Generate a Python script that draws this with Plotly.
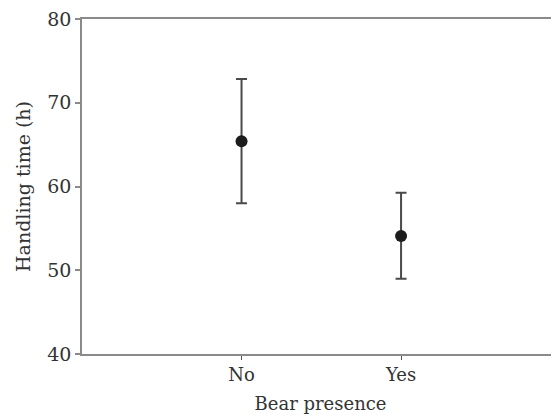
import plotly.graph_objects as go

categories = ["No", "Yes"]
means = [65.4, 54.1]
upper = [72.85, 59.25]
lower = [58.0, 49.0]
y_ticks = [40, 50, 60, 70, 80]

x_pos = list(range(len(categories)))
err_plus = [u - m for u, m in zip(upper, means)]
err_minus = [m - l for m, l in zip(means, lower)]

font_family = "DejaVu Serif, Liberation Serif, serif"

fig = go.Figure()
fig.add_trace(go.Scatter(
    x=x_pos, y=means, mode="markers",
    marker=dict(color="#1c1c1c", size=12),
    error_y=dict(type="data", symmetric=False, array=err_plus, arrayminus=err_minus,
                 color="#4a4a4a", thickness=2, width=5.5),
    showlegend=False,
))

fig.update_layout(
    width=551, height=409,
    margin=dict(l=74, r=0, t=11, b=63),
    paper_bgcolor="white", plot_bgcolor="white",
    font=dict(family=font_family, size=18, color="#333333"),
    xaxis=dict(
        range=[-1, 1.99], tickvals=x_pos, ticktext=categories,
        showgrid=False, zeroline=False, showline=True, linecolor="#8a8a8a", linewidth=1.5,
        mirror=True, ticks="outside", ticklen=4, tickcolor="#555555", tickwidth=1,
        title=dict(text="Bear presence", font=dict(size=18), standoff=13),
        tickfont=dict(size=18), automargin=False,
    ),
    yaxis=dict(
        range=[40, 80], tickvals=y_ticks,
        showgrid=False, zeroline=False, showline=True, linecolor="#8a8a8a", linewidth=1.5,
        mirror=False, ticks="outside", ticklen=5, tickcolor="#8a8a8a", tickwidth=1.5,
        title=dict(text="Handling time (h)", font=dict(size=19), standoff=12),
        tickfont=dict(size=19), ticklabeloverflow="allow", automargin=False,
    ),
)

fig.write_html("out.html")
